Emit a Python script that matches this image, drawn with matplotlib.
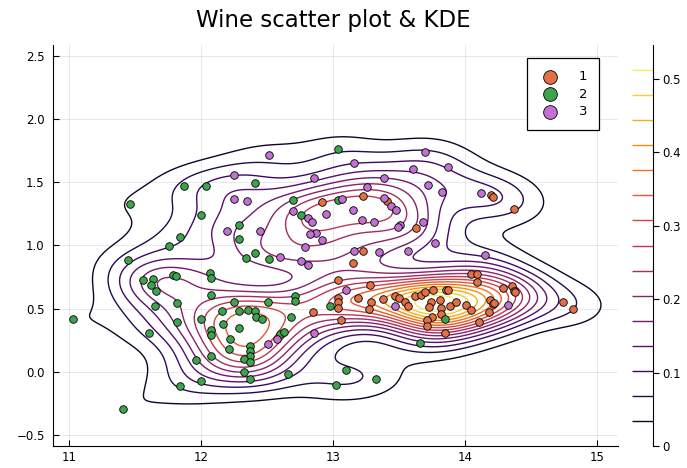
import numpy as np
import matplotlib
matplotlib.use("Agg")
import matplotlib.pyplot as plt

# alcohol (x) vs log(malic acid) (y), per class
class1_x = [12.92, 13.23, 13.41, 13.63, 13.23, 13.15, 13.04, 13.28, 13.04, 13.04,
            13.04, 13.19, 13.29, 13.27, 13.38, 13.47, 13.50, 13.55, 13.57, 13.62,
            13.67, 13.70, 13.76, 13.74, 13.73, 13.75, 13.71, 13.71, 12.85, 13.06,
            14.20, 14.21, 14.37, 14.05, 14.09, 14.09, 14.29, 14.36, 14.37, 14.38,
            14.74, 14.82, 13.86, 13.87, 13.81, 13.82, 13.89, 13.93, 14.01, 14.05,
            14.19, 14.21, 14.22, 14.18, 13.82, 14.11, 13.85]
class1_y = [1.344, 1.387, 1.347, 1.137, 0.958, 0.863, 0.725, 0.685, 0.587, 0.550,
            0.506, 0.582, 0.550, 0.500, 0.577, 0.603, 0.587, 0.553, 0.518, 0.601,
            0.611, 0.629, 0.645, 0.553, 0.516, 0.433, 0.407, 0.363, 0.476, 0.410,
            1.402, 1.385, 1.286, 0.772, 0.775, 0.709, 0.659, 0.677, 0.637, 0.629,
            0.553, 0.500, 0.645, 0.643, 0.566, 0.506, 0.524, 0.553, 0.526, 0.492,
            0.571, 0.537, 0.545, 0.471, 0.460, 0.397, 0.307]

class2_x = [11.46, 11.87, 12.04, 12.00, 12.29, 12.29, 11.84, 11.76, 12.34, 11.45,
            11.56, 11.64, 11.62, 11.79, 11.81, 12.07, 12.08, 11.66, 12.08, 11.82,
            11.65, 12.25, 12.16, 12.29, 12.36, 11.03, 11.82, 12.00, 12.17, 12.29,
            12.08, 12.08, 11.61, 12.22, 12.21, 12.37, 12.37, 12.37, 12.08, 11.96,
            12.33, 12.37, 12.33, 12.37, 12.00, 11.84, 11.41, 12.41, 12.52, 13.04,
            12.41, 12.70, 13.04, 12.76, 12.51, 12.71, 12.71, 12.98, 12.41, 12.42,
            12.46, 12.68, 12.60, 12.63, 12.66, 13.10, 13.02, 13.33, 13.66, 13.85]
class2_y = [1.325, 1.466, 1.466, 1.238, 1.159, 1.048, 1.066, 0.992, 0.902, 0.883,
            0.728, 0.734, 0.690, 0.762, 0.756, 0.778, 0.738, 0.635, 0.611, 0.545,
            0.518, 0.550, 0.479, 0.483, 0.492, 0.415, 0.391, 0.418, 0.379, 0.347,
            0.333, 0.291, 0.307, 0.260, 0.180, 0.201, 0.164, 0.127, 0.127, 0.090,
            0.101, 0.074, -0.002, -0.056, -0.077, -0.111, -0.296, 0.942, 0.894, 1.764,
            1.494, 1.360, 1.357, 1.238, 0.553, 0.603, 0.563, 0.518, 0.484, 0.431,
            0.421, 0.431, 0.299, 0.315, -0.016, 0.016, -0.103, -0.056, 0.228, 0.415]

class3_x = [12.25, 12.25, 12.35, 12.20, 12.52, 13.70, 13.16, 13.61, 12.86, 13.39,
            13.72, 13.26, 13.07, 13.39, 13.44, 13.48, 12.70, 12.81, 12.84, 12.95,
            13.15, 13.22, 13.31, 13.68, 13.51, 13.49, 12.45, 12.87, 12.83, 12.92,
            13.77, 12.79, 12.60, 12.76, 12.81, 13.16, 13.35, 13.57, 13.87, 13.83,
            14.12, 14.15, 13.10, 13.47, 12.86, 12.58, 12.51, 14.33]
class3_y = [1.557, 1.363, 1.352, 1.117, 1.714, 1.738, 1.653, 1.606, 1.534, 1.534,
            1.479, 1.463, 1.367, 1.371, 1.312, 1.283, 1.272, 1.220, 1.188, 1.246,
            1.280, 1.201, 1.183, 1.188, 1.159, 1.143, 1.117, 1.101, 1.090, 1.040,
            1.021, 0.987, 0.907, 0.875, 0.844, 0.958, 0.947, 0.955, 1.623, 1.423,
            1.418, 0.926, 0.648, 0.521, 0.307, 0.260, 0.222, 0.526]

class_labels = ["1", "2", "3"]
class_colors = ["#e26f46", "#3da44d", "#c271d2"]


def silverman_bw(v):
    v = np.asarray(v)
    q75, q25 = np.percentile(v, [75, 25])
    return 0.9 * min(v.std(ddof=1), (q75 - q25) / 1.34) * len(v) ** (-0.2)


def kde2d(xs, ys, gx, gy, scale=1.0):
    xs = np.asarray(xs)
    ys = np.asarray(ys)
    bx, by = silverman_bw(xs) * scale, silverman_bw(ys) * scale
    X, Y = np.meshgrid(gx, gy)
    z = np.zeros_like(X)
    for px, py in zip(xs, ys):
        z += np.exp(-0.5 * (((X - px) / bx) ** 2 + ((Y - py) / by) ** 2))
    z /= len(xs) * 2 * np.pi * bx * by
    return X, Y, z


all_x = class1_x + class2_x + class3_x
all_y = class1_y + class2_y + class3_y

gx = np.linspace(10.5, 15.5, 300)
gy = np.linspace(-1.0, 3.0, 300)
X, Y, Z = kde2d(all_x, all_y, gx, gy, scale=0.93)
zmax = Z.max()
levels = np.linspace(0, zmax, 17)[1:-1]
cmap = plt.get_cmap("inferno")
norm = matplotlib.colors.Normalize(0, zmax)

fig = plt.figure(figsize=(6.87, 4.68), dpi=100)
ax = fig.add_axes([53 / 687, 22.3 / 468, 565 / 687, 400.7 / 468])

ax.contour(X, Y, Z, levels=levels, cmap=cmap, norm=norm, linewidths=1.0, zorder=2)

for xs, ys, lab, col in zip([class1_x, class2_x, class3_x],
                            [class1_y, class2_y, class3_y],
                            class_labels, class_colors):
    ax.scatter(xs, ys, s=30, color=col, edgecolors="black", linewidths=0.6,
               label=lab, zorder=3)

ax.set_xlim(10.88, 15.16)
ax.set_ylim(-0.585, 2.585)
ax.set_xticks([11, 12, 13, 14, 15])
ax.set_yticks([-0.5, 0.0, 0.5, 1.0, 1.5, 2.0, 2.5])
ax.set_yticklabels(["\u22120.5", "0.0", "0.5", "1.0", "1.5", "2.0", "2.5"])
ax.tick_params(direction="in", length=4.5, width=0.8, labelsize=8.5, pad=6)
ax.tick_params(axis="x", pad=4)
ax.grid(True, color="black", alpha=0.1, linewidth=0.6)
ax.set_axisbelow(True)
for s in ["top", "right"]:
    ax.spines[s].set_visible(False)

leg = ax.legend(loc="upper right", bbox_to_anchor=(599.3 / 687, 1 - 58.3 / 468),
                bbox_transform=fig.transFigure, borderaxespad=0, fontsize=9.5,
                markerscale=1.8, fancybox=False, framealpha=1, edgecolor="black",
                handletextpad=1.4, labelspacing=0.35, borderpad=0.9, handlelength=1.6)
leg.get_frame().set_linewidth(0.9)

fig.text(333 / 687, 1 - 21 / 468, "Wine scatter plot & KDE", ha="center", va="center",
         fontsize=16.5)

# colorbar with contour level lines
cax = fig.add_axes([631.7 / 687, 22 / 468, 21 / 687, 401 / 468])
cax.hlines(levels, 0, 1, colors=[cmap(norm(l)) for l in levels], linewidth=1.0)
cax.set_xlim(0, 1)
cax.set_ylim(0, zmax)
cax.set_xticks([])
cax.yaxis.tick_right()
cax.set_yticks([0, 0.1, 0.2, 0.3, 0.4, 0.5])
cax.set_yticklabels(["0", "0.1", "0.2", "0.3", "0.4", "0.5"])
cax.tick_params(axis="y", direction="out", length=4, width=0.8, labelsize=8.5, pad=3)
for s in ["top", "left", "bottom"]:
    cax.spines[s].set_visible(False)

fig.savefig("out.png", dpi=100)
